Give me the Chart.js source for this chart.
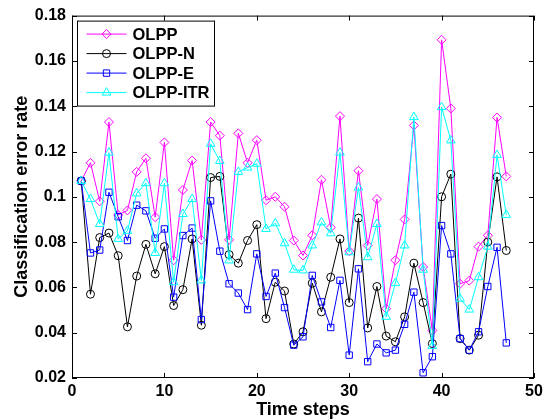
<!DOCTYPE html>
<html>
<head>
<meta charset="utf-8">
<script src="https://cdn.jsdelivr.net/npm/chart.js@4.4.0/dist/chart.umd.min.js"></script>
<style>
  html, body { margin: 0; padding: 0; background: #fff; }
  #wrap { width: 552px; height: 419px; }
</style>
</head>
<body>
<div id="wrap"><canvas id="chart" width="552" height="419"></canvas></div>
<script>
// time steps 1..47
const timeSteps = [1, 2, 3, 4, 5, 6, 7, 8, 9, 10, 11, 12, 13, 14, 15, 16, 17, 18, 19, 20,
  21, 22, 23, 24, 25, 26, 27, 28, 29, 30, 31, 32, 33, 34, 35, 36, 37, 38, 39, 40,
  41, 42, 43, 44, 45, 46, 47];

const olpp = [0.107, 0.115, 0.098, 0.133, 0.092, 0.094, 0.111, 0.117, 0.091, 0.124,
  0.072, 0.103, 0.116, 0.081, 0.133, 0.127, 0.081, 0.128, 0.115, 0.125,
  0.0985, 0.100, 0.0956, 0.0807, 0.0741, 0.083, 0.1075, 0.0865, 0.1356, 0.076,
  0.1115, 0.0785, 0.099, 0.0506, 0.072, 0.090, 0.1315, 0.069, 0.041, 0.1693,
  0.139, 0.0616, 0.063, 0.078, 0.083, 0.135, 0.109];

const olppN = [0.107, 0.057, 0.082, 0.084, 0.074, 0.0426, 0.065, 0.079, 0.066, 0.078,
  0.052, 0.059, 0.0814, 0.0433, 0.1085, 0.109, 0.0745, 0.0707, 0.0807, 0.0877,
  0.0462, 0.0623, 0.0584, 0.035, 0.0404, 0.0619, 0.0492, 0.0645, 0.0814, 0.0533,
  0.0906, 0.0421, 0.0604, 0.0385, 0.036, 0.047, 0.0707, 0.0533, 0.0352, 0.100,
  0.110, 0.0374, 0.0323, 0.0389, 0.080, 0.1088, 0.0763];

const olppE = [0.107, 0.0752, 0.0765, 0.102, 0.0912, 0.0807, 0.0963, 0.0938, 0.0817, 0.0858,
  0.0557, 0.0829, 0.0862, 0.0458, 0.0982, 0.076, 0.0616, 0.0575, 0.0502, 0.0748,
  0.056, 0.0663, 0.0511, 0.0345, 0.0382, 0.0653, 0.0536, 0.0423, 0.0631, 0.0301,
  0.0682, 0.0272, 0.035, 0.0311, 0.0323, 0.0437, 0.0579, 0.0223, 0.0294, 0.0873,
  0.0748, 0.0374, 0.0323, 0.0404, 0.0604, 0.0777, 0.0355];

const olppItr = [0.107, 0.099, 0.088, 0.1195, 0.0814, 0.085, 0.1015, 0.106, 0.0752, 0.106,
  0.0623, 0.0924, 0.099, 0.0631, 0.1234, 0.1158, 0.0719, 0.111, 0.1129, 0.1146,
  0.0858, 0.0883, 0.0795, 0.0678, 0.0675, 0.0785, 0.0887, 0.0839, 0.1195, 0.0755,
  0.1041, 0.0733, 0.088, 0.047, 0.0619, 0.0785, 0.1352, 0.0678, 0.0341, 0.1396,
  0.1249, 0.055, 0.0502, 0.0645, 0.078, 0.1185, 0.092];

const seriesNames = ['OLPP', 'OLPP-N', 'OLPP-E', 'OLPP-ITR'];
const xTicks = [0, 10, 20, 30, 40, 50];
const yTicks = [0.02, 0.04, 0.06, 0.08, 0.1, 0.12, 0.14, 0.16, 0.18];

const styles = [
  { color: '#ff00ff', pointStyle: 'rectRot', radius: 4.5 },
  { color: '#000000', pointStyle: 'circle', radius: 4 },
  { color: '#0000ff', pointStyle: 'rect', radius: 4.5 },
  { color: '#00ffff', pointStyle: 'triangle', radius: 5 },
];

const FONT = 'Liberation Sans, Arial, Helvetica, sans-serif';

const datasets = [olpp, olppN, olppE, olppItr].map((vals, i) => ({
  label: seriesNames[i],
  data: vals.map((v, j) => ({ x: timeSteps[j], y: v })),
  borderColor: styles[i].color,
  backgroundColor: 'rgba(0,0,0,0)',
  borderWidth: 1,
  pointStyle: styles[i].pointStyle,
  pointRadius: styles[i].radius,
  pointBorderWidth: 1,
  pointBackgroundColor: 'rgba(0,0,0,0)',
  pointBorderColor: styles[i].color,
  tension: 0,
  order: 3 - i, // later series on top, like matlab
}));

// box + inward ticks
const frame = {
  id: 'frame',
  afterDatasetsDraw(chart) {
    const { ctx, chartArea: a, scales: { x, y } } = chart;
    ctx.save();
    ctx.strokeStyle = '#000';
    ctx.lineWidth = 1;
    ctx.strokeRect(a.left + 0.5, a.top + 0.5, a.right - a.left - 1, a.bottom - a.top - 1);
    ctx.beginPath();
    xTicks.forEach(v => {
      const px = Math.round(x.getPixelForValue(v)) + 0.5;
      ctx.moveTo(px, a.bottom); ctx.lineTo(px, a.bottom - 5);
      ctx.moveTo(px, a.top); ctx.lineTo(px, a.top + 5);
    });
    yTicks.forEach(v => {
      const py = Math.round(y.getPixelForValue(v)) + 0.5;
      ctx.moveTo(a.left, py); ctx.lineTo(a.left + 5, py);
      ctx.moveTo(a.right, py); ctx.lineTo(a.right - 5, py);
    });
    ctx.stroke();
    ctx.restore();
  },
};

// legend box in the upper left corner
const legendBox = {
  id: 'legendBox',
  afterDraw(chart) {
    const { ctx, chartArea: a } = chart;
    const left = a.left + 5.5, top = a.top + 5.5, w = 137, h = 85;
    ctx.save();
    ctx.fillStyle = '#fff';
    ctx.fillRect(left, top, w, h);
    ctx.strokeStyle = '#000';
    ctx.lineWidth = 1;
    ctx.strokeRect(left, top, w, h);
    ctx.font = 'bold 16.5px ' + FONT;
    ctx.textBaseline = 'middle';
    seriesNames.forEach((name, i) => {
      const yy = top + 13 + i * 19.5;
      const s = styles[i];
      ctx.strokeStyle = s.color;
      ctx.beginPath();
      ctx.moveTo(left + 9, yy);
      ctx.lineTo(left + 49, yy);
      ctx.stroke();
      ctx.fillStyle = 'rgba(0,0,0,0)';
      Chart.helpers.drawPoint(ctx, { pointStyle: s.pointStyle, radius: s.radius, borderWidth: 1, rotation: 0 }, left + 29, yy);
      ctx.fillStyle = '#000';
      ctx.fillText(name, left + 55, yy + 1);
    });
    ctx.restore();
  },
};

new Chart(document.getElementById('chart'), {
  type: 'line',
  data: { datasets },
  options: {
    responsive: false,
    animation: false,
    events: [],
    layout: { padding: { top: 14, right: 18, left: 0, bottom: 0 }, autoPadding: false },
    plugins: { legend: { display: false }, tooltip: { enabled: false } },
    scales: {
      x: {
        type: 'linear',
        min: 0, max: 50,
        afterFit: s => { s.height = 41; },
        afterBuildTicks: s => { s.ticks = xTicks.map(v => ({ value: v })); },
        grid: { display: false, drawTicks: false },
        border: { display: false },
        ticks: { color: '#000', padding: 4, font: { family: FONT, size: 16, weight: 'bold' } },
        title: {
          display: true, text: 'Time steps', color: '#000',
          font: { family: FONT, size: 18, weight: 'bold', lineHeight: 1 },
          padding: { top: 0, bottom: 0 },
        },
      },
      y: {
        min: 0.02, max: 0.18,
        afterFit: s => { s.width = 72; },
        afterBuildTicks: s => { s.ticks = yTicks.map(v => ({ value: v })); },
        grid: { display: false, drawTicks: false },
        border: { display: false },
        ticks: {
          color: '#000', padding: 6,
          font: { family: FONT, size: 16, weight: 'bold' },
          callback: v => String(Number(v.toFixed(2))),
        },
        title: {
          display: true, text: 'Classification error rate', color: '#000',
          font: { family: FONT, size: 18, weight: 'bold', lineHeight: 1.2 },
          padding: { top: 11, bottom: 0 },
        },
      },
    },
  },
  plugins: [frame, legendBox],
});
</script>
</body>
</html>
